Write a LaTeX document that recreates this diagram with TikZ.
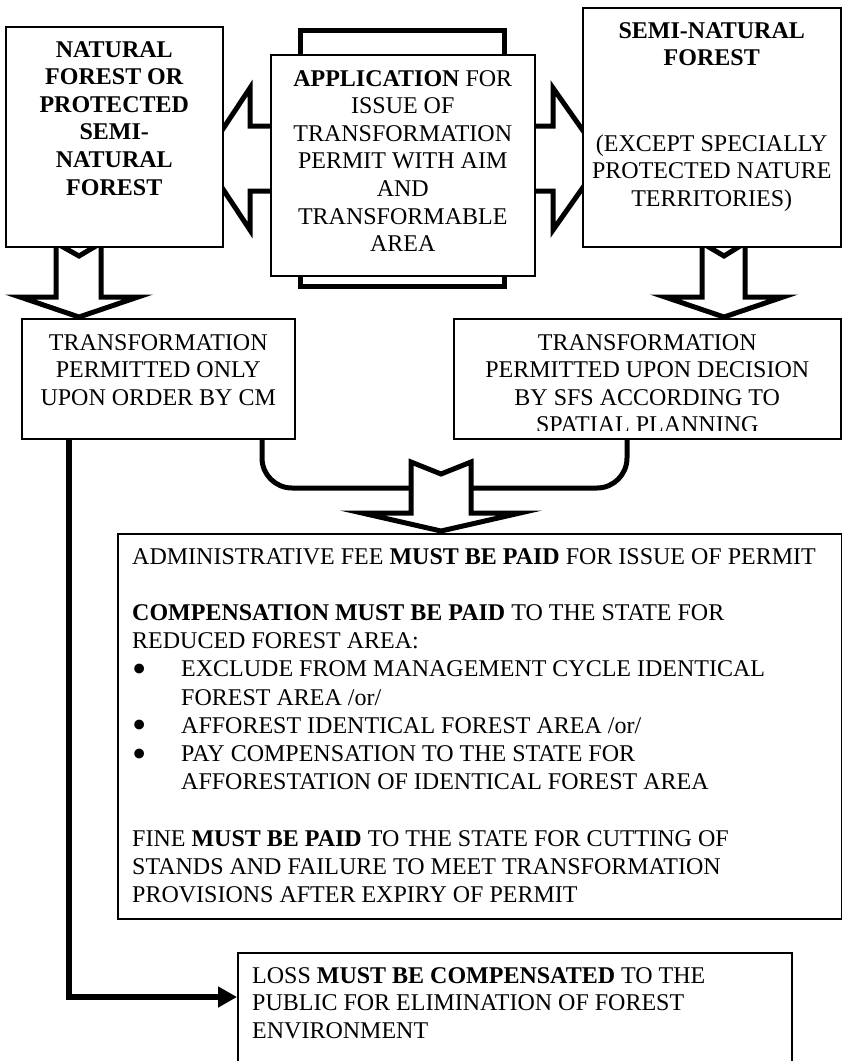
\documentclass[tikz,border=0pt]{standalone}
\usepackage{fontspec}
\setmainfont{Liberation Serif}
\usetikzlibrary{positioning,arrows.meta,backgrounds}

\newcommand\bulletline[1]{\makebox[49pt][l]{\smash{\raisebox{-5.6pt}{\scalebox{1.7}{\textbullet}}}}#1}

\tikzset{
  box/.style={draw, line width=1.5pt, fill=white, inner sep=0pt, anchor=north west},
  txt/.style={font=\fontsize{24pt}{27.6pt}\selectfont, inner sep=0pt, align=center},
  bigarrow/.style={draw, line width=5pt, fill=white, line join=miter},
  link/.style={line width=5pt, rounded corners=30pt},
}

\begin{document}
\begin{tikzpicture}[x=1pt, y=-1pt]
\useasboundingbox (0,0) rectangle (842,1061);

% boxes
\node[box, minimum width=217pt, minimum height=220pt] (natbox) at (5,26) {};
\node[box, minimum width=264pt, minimum height=221pt] (appbox) at (270,54) {};
\node[box, minimum width=258pt, minimum height=239pt] (semibox) at (582,7) {};
\node[box, minimum width=273pt, minimum height=120pt] (cmbox) at (21,318) {};
\node[box, minimum width=387pt, minimum height=120pt] (sfsbox) at (453,318) {};
\node[box, minimum width=724pt, minimum height=385pt] (feebox) at (117,533) {};
\node[box, minimum width=554pt, minimum height=160pt] (lossbox) at (237,952) {};

% texts
\node[txt, font=\bfseries\fontsize{24pt}{27.6pt}\selectfont, below=15pt of natbox.north] (nattxt)
  {NATURAL\\FOREST OR\\PROTECTED\\SEMI-\\NATURAL\\FOREST};
\node[txt, below=16pt of appbox.north] (apptxt)
  {\textbf{APPLICATION} FOR\\ISSUE OF\\TRANSFORMATION\\PERMIT WITH AIM\\AND\\TRANSFORMABLE\\AREA};
\node[txt, below=15pt of semibox.north] (semitxt)
  {\textbf{SEMI-NATURAL}\\\textbf{FOREST}\\[58pt](EXCEPT SPECIALLY\\PROTECTED NATURE\\TERRITORIES)};
\node[txt, below=16pt of cmbox.north] (cmtxt)
  {TRANSFORMATION\\PERMITTED ONLY\\UPON ORDER BY CM};
\begin{scope}
\clip (453,318) rectangle (840,430);
\node[txt, below=16pt of sfsbox.north] (sfstxt)
  {TRANSFORMATION\\PERMITTED UPON DECISION\\BY SFS ACCORDING TO\\SPATIAL PLANNING};
\end{scope}
\node[txt, font=\fontsize{24pt}{28.2pt}\selectfont, align=left, below right=15pt and 15pt of feebox.north west] (feetxt)
  {ADMINISTRATIVE FEE \textbf{MUST BE PAID} FOR ISSUE OF PERMIT\\[28.2pt]
   \textbf{COMPENSATION MUST BE PAID} TO THE STATE FOR\\
   REDUCED FOREST AREA:\\
   \bulletline{EXCLUDE FROM MANAGEMENT CYCLE IDENTICAL}\\
   \hspace*{49pt}FOREST AREA /or/\\
   \bulletline{AFFOREST IDENTICAL FOREST AREA /or/}\\
   \bulletline{PAY COMPENSATION TO THE STATE FOR}\\
   \hspace*{49pt}AFFORESTATION OF IDENTICAL FOREST AREA\\[28.2pt]
   FINE \textbf{MUST BE PAID} TO THE STATE FOR CUTTING OF\\
   STANDS AND FAILURE TO MEET TRANSFORMATION\\
   PROVISIONS AFTER EXPIRY OF PERMIT};
\node[txt, align=left, below right=15pt and 15pt of lossbox.north west] (losstxt)
  {LOSS \textbf{MUST BE COMPENSATED} TO THE\\PUBLIC FOR ELIMINATION OF FOREST\\ENVIRONMENT};

% block arrows behind the boxes
\begin{scope}[on background layer]
\draw[line width=5pt] (300,30.5) rectangle (504,286);
\draw[bigarrow] (300,126) -- (250,126) -- (250,88) -- (203,159) -- (250,230) -- (250,191) -- (300,191) -- cycle;
\draw[bigarrow] (504,126) -- (553,126) -- (553,88) -- (603,159) -- (553,230) -- (553,191) -- (504,191) -- cycle;
\draw[bigarrow] (56,243) -- (56,297) -- (20,297) -- (79,317) -- (138,297) -- (101,297) -- (101,243) -- (79,256) -- cycle;
\draw[bigarrow] (702,243) -- (702,297) -- (665,297) -- (724,317) -- (783,297) -- (745,297) -- (745,243) -- (724,256) -- cycle;
\end{scope}

% joining lines
\coordinate (cmout) at ([xshift=241pt]cmbox.south west);
\coordinate (sfsout) at ([xshift=174pt]sfsbox.south west);
\coordinate (mergeL) at (411,488);
\coordinate (mergeR) at (471,488);
\draw[link] (cmout) |- (mergeL);
\draw[link] (sfsout) |- (mergeR);
\draw[bigarrow] (411,462) -- (411,513) -- (362,513) -- (441,531) -- (520,513) -- (471,513) -- (471,462) -- (441,474) -- cycle;

\coordinate (cmdown) at ([xshift=48pt]cmbox.south west);
\coordinate (lossin) at ([yshift=-45pt]lossbox.north west);
\draw[line width=6pt, -{Triangle[length=19pt,width=20pt]}] (cmdown) |- (lossin);
\end{tikzpicture}
\end{document}
